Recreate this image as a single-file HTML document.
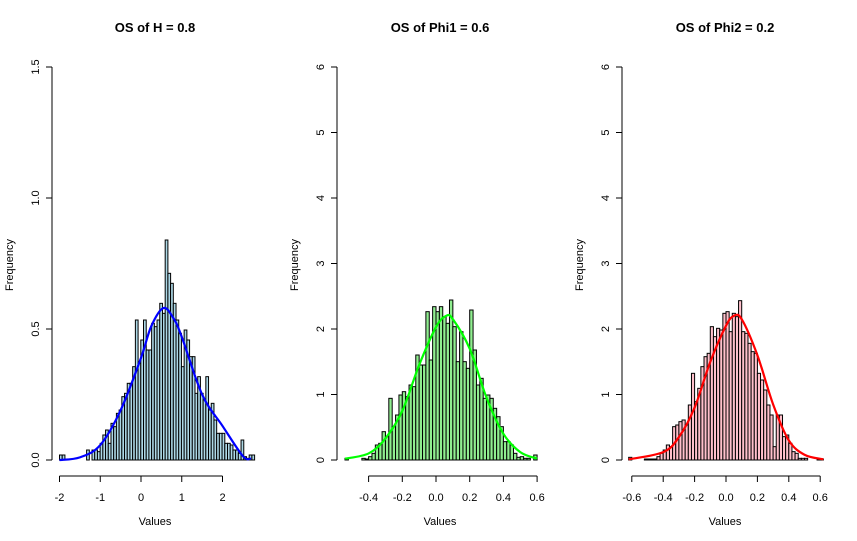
<!DOCTYPE html>
<html><head><meta charset="utf-8"><style>
body{margin:0;background:#fff}
svg{display:block;font-family:"Liberation Sans",Arial,sans-serif}
</style></head><body>
<svg id="c" width="857" height="541" xmlns="http://www.w3.org/2000/svg"></svg>
<script>
// ---- Panel 1: OS of H = 0.8 ----
const p1Start = -2.0, p1Width = 0.0665;
const p1Density = [15,15,0,0,0,0,0,0,0,0,30,0,30,30,25,50,75,90,50,110,100,140,150,190,200,230,230,280,420,290,360,420,330,330,410,400,420,470,440,660,560,530,470,420,380,280,390,360,310,310,200,250,200,180,250,150,170,120,80,80,80,50,50,45,30,30,20,60,10,5,15,15].map(v=>v/786);
const p1CurveX = [-2,-1.5,-1,-0.5,0,0.25,0.55,0.8,1,1.5,2,2.5,2.7];
const p1CurveY = [0,0.01,0.057,0.19,0.39,0.51,0.58,0.54,0.47,0.25,0.13,0.015,0.005];
const p1YTicks = ["0.0","0.5","1.0","1.5"];
const p1XTicks = ["-2","-1","0","1","2"];
// ---- Panel 2: OS of Phi1 = 0.6 ----
const p2Start = -0.54, p2Width = 0.02;
const p2Density = [5,0,0,0,0,5,3,10,20,45,50,85,70,185,100,135,195,205,190,225,220,315,285,285,445,300,460,445,460,430,410,480,400,295,385,295,275,450,330,225,245,185,195,185,155,130,100,55,55,45,20,8,10,5,5,0,15].map(v=>v/196.5);
const p2CurveX = [-0.54,-0.4,-0.3,-0.2,-0.1,0,0.06,0.1,0.2,0.3,0.4,0.5,0.6];
const p2CurveY = [0.02,0.1,0.33,0.75,1.45,2.03,2.2,2.15,1.7,0.95,0.4,0.12,0.02];
const p2YTicks = ["0","1","2","3","4","5","6"];
const p2XTicks = ["-0.4","-0.2","0.0","0.2","0.4","0.6"];
// ---- Panel 3: OS of Phi2 = 0.2 ----
const p3Start = -0.62, p3Width = 0.02;
const p3Density = [8,0,0,0,0,3,3,3,3,10,20,30,45,40,100,105,115,120,105,165,260,175,215,280,310,320,400,370,395,390,440,445,385,440,430,478,385,380,350,325,320,260,240,210,165,135,40,135,135,70,75,50,25,20,5,5,5,0,0,0,3,3].map(v=>v/196.5);
const p3CurveX = [-0.62,-0.4,-0.3,-0.2,-0.1,0,0.05,0.1,0.2,0.3,0.4,0.5,0.62];
const p3CurveY = [0.01,0.12,0.35,0.8,1.5,2.05,2.2,2.15,1.6,0.85,0.3,0.08,0.01];
const p3YTicks = ["0","1","2","3","4","5","6"];
const p3XTicks = ["-0.6","-0.4","-0.2","0.0","0.2","0.4","0.6"];

const svg=document.getElementById('c');
const NS="http://www.w3.org/2000/svg";
function mk(tag,attrs,parent){const e=document.createElementNS(NS,tag);for(const k in attrs)e.setAttribute(k,attrs[k]);(parent||svg).appendChild(e);return e;}

function panel(o){
  const g=mk('g',{});
  
  
  const sx=v=>o.x0px+(v-o.x0v)*o.pxX;
  const sy=v=>460-v*o.pxY;
  // bars
  o.dens.forEach((d,i)=>{
    if(d<=0) return;
    const x1=sx(o.start+i*o.w), x2=sx(o.start+(i+1)*o.w);
    const r=mk('rect',{x:x1,y:sy(d),width:x2-x1,height:460-sy(d),fill:o.fill,stroke:'#000','stroke-width':1},g);
    
    
  });
  // curve (smooth catmull-rom)
  const pts=o.cx.map((x,i)=>[sx(x),sy(o.cy[i])]);
  let d='M'+pts[0][0]+','+pts[0][1];
  for(let i=0;i<pts.length-1;i++){
    const p0=pts[Math.max(0,i-1)],p1=pts[i],p2=pts[i+1],p3=pts[Math.min(pts.length-1,i+2)];
    const c1=[p1[0]+(p2[0]-p0[0])/6,p1[1]+(p2[1]-p0[1])/6];
    const c2=[p2[0]-(p3[0]-p1[0])/6,p2[1]-(p3[1]-p1[1])/6];
    d+=`C${c1[0]},${c1[1]} ${c2[0]},${c2[1]} ${p2[0]},${p2[1]}`;
  }
  const c=mk('path',{d:d,fill:'none',stroke:o.line,'stroke-width':2.2},g);
  
  
  // y axis
  const ya=mk('g',{},g);
  
  
  const ymax=o.yt.length-1;
  mk('line',{x1:o.yax,y1:sy(0),x2:o.yax,y2:sy(parseFloat(o.yt[ymax])),stroke:'#000'},ya);
  o.yt.forEach(t=>{
    const y=sy(parseFloat(t));
    mk('line',{x1:o.yax-6,y1:y,x2:o.yax,y2:y,stroke:'#000'},ya);
    const tx=mk('text',{x:o.yax-13,y:y,'font-size':11,'text-anchor':'middle',transform:`rotate(-90 ${o.yax-13} ${y})`},ya);
    tx.textContent=t;
    
    
  });
  // x axis
  const xa=mk('g',{},g);
  
  
  const xs=o.xt.map(parseFloat);
  mk('line',{x1:sx(xs[0]),y1:476,x2:sx(xs[xs.length-1]),y2:476,stroke:'#000'},xa);
  o.xt.forEach(t=>{
    const x=sx(parseFloat(t));
    mk('line',{x1:x,y1:476,x2:x,y2:482,stroke:'#000'},xa);
    const tx=mk('text',{x:x,y:501,'font-size':11,'text-anchor':'middle'},xa);
    tx.textContent=t;
    
    
  });
  const xl=mk('text',{x:o.cxl,y:525,'font-size':11,'text-anchor':'middle'},g);
  xl.textContent='Values';
  
  
  const yl=mk('text',{x:o.ylx,y:265,'font-size':11,'text-anchor':'middle',transform:`rotate(-90 ${o.ylx} 265)`},g);
  yl.textContent='Frequency';
  
  
  const ti=mk('text',{x:o.cxl,y:32,'font-size':13,'font-weight':'bold','text-anchor':'middle'},g);
  ti.textContent=o.title;
  
  
}

panel({name:'panel-h',title:'OS of H = 0.8',start:p1Start,w:p1Width,dens:p1Density,cx:p1CurveX,cy:p1CurveY,yt:p1YTicks,xt:p1XTicks,
  x0v:-2,x0px:59.5,pxX:40.75,pxY:262,yax:52,fill:'#add8e6',line:'#0000ff',cxl:155,ylx:13});
panel({name:'panel-phi1',title:'OS of Phi1 = 0.6',start:p2Start,w:p2Width,dens:p2Density,cx:p2CurveX,cy:p2CurveY,yt:p2YTicks,xt:p2XTicks,
  x0v:0,x0px:436,pxX:168.5,pxY:65.5,yax:337,fill:'#90ee90',line:'#00ff00',cxl:440,ylx:298});
panel({name:'panel-phi2',title:'OS of Phi2 = 0.2',start:p3Start,w:p3Width,dens:p3Density,cx:p3CurveX,cy:p3CurveY,yt:p3YTicks,xt:p3XTicks,
  x0v:0,x0px:726,pxX:157,pxY:65.5,yax:622,fill:'#ffc0cb',line:'#ff0000',cxl:725,ylx:583});
</script>
</body></html>
